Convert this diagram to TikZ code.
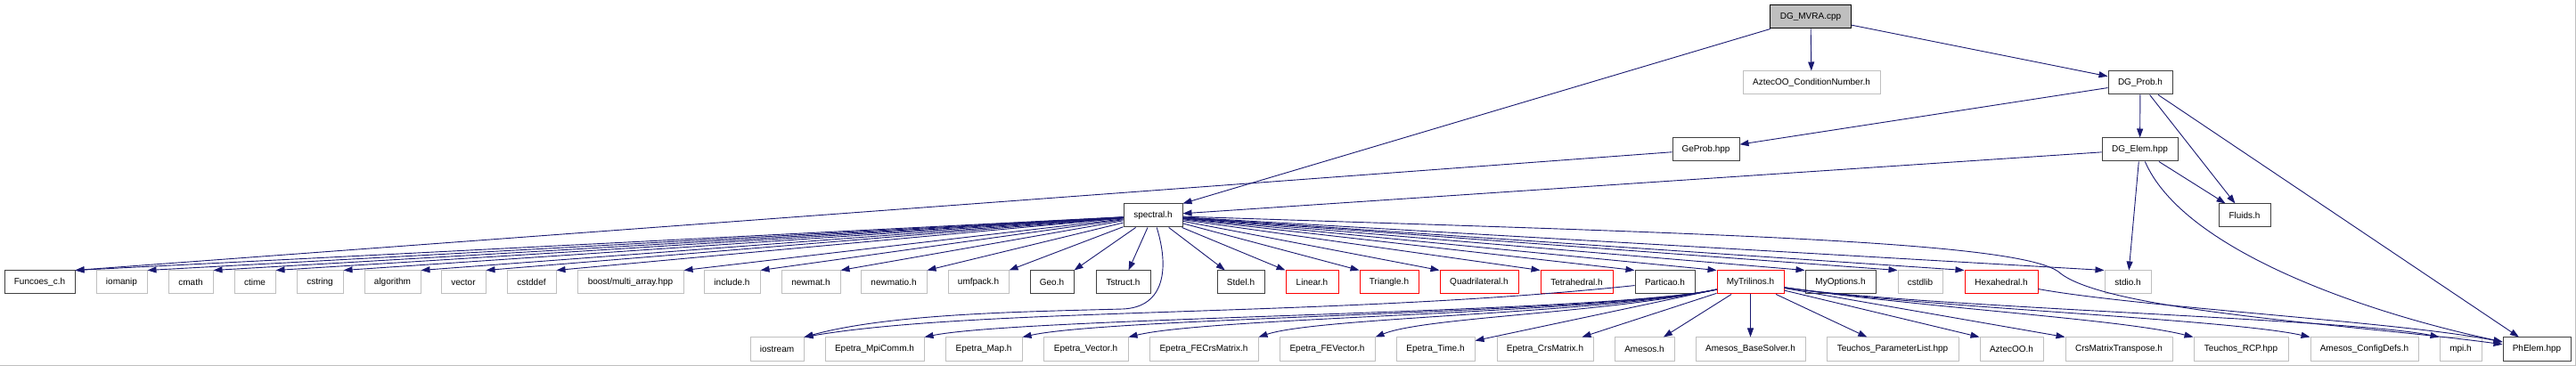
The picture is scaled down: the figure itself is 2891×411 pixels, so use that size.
\documentclass[tikz,border=0pt]{standalone}
\usepackage{fontspec}
\setmainfont{Liberation Sans}
\usepackage{tikz}
\usetikzlibrary{arrows.meta}
\definecolor{edgeblue}{rgb}{0.10, 0.10, 0.44}
\definecolor{docgray}{rgb}{0.25, 0.25, 0.25}
\definecolor{sysgray}{rgb}{0.75, 0.75, 0.75}
\definecolor{rootfill}{rgb}{0.75, 0.75, 0.75}
\tikzstyle{file} = [draw, rectangle, line width=1pt, minimum height=26pt, inner sep=0pt, font=\fontsize{10}{12}\selectfont]
\tikzstyle{docfile} = [file, draw=docgray]
\tikzstyle{sysfile} = [file, draw=sysgray]
\tikzstyle{cutfile} = [file, draw=red]
\tikzstyle{rootfile} = [file, draw=black, fill=rootfill]
\tikzstyle{edge} = [draw=edgeblue, line width=0.9pt, -{Triangle[length=10pt,width=7pt]}]

\begin{document}
\begin{tikzpicture}[x=1pt, y=-1pt]
    \useasboundingbox (0,0) rectangle (2891,411);
    \draw[sysgray, line width=1pt] (0,410) -- (2890,410) -- (2890,0);
    \node[rootfile, minimum width=91] (mvra) at (2032,19) {DG\_MVRA.cpp};
    \node[sysfile, minimum width=154] (aztcond) at (2033,93) {AztecOO\_ConditionNumber.h};
    \node[docfile, minimum width=72] (dgprob) at (2402,93) {DG\_Prob.h};
    \node[docfile, minimum width=75] (geprob) at (1914.5,168) {GeProb.hpp};
    \node[docfile, minimum width=85] (dgelem) at (2401.5,168) {DG\_Elem.hpp};
    \node[docfile, minimum width=66] (spectral) at (1294,242) {spectral.h};
    \node[docfile, minimum width=58] (fluids) at (2519,242) {Fluids.h};
    \foreach \n/\x/\w/\s/\t in {funcoes/44.5/79/docfile/Funcoes\_c.h, iomanip/136.5/57/sysfile/iomanip, cmath/214/50/sysfile/cmath,
        ctime/286/46/sysfile/ctime, cstring/359/52/sysfile/cstring, algorithm/440.5/63/sysfile/algorithm,
        vector/520/50/sysfile/vector, cstddef/596.5/55/sysfile/cstddef, boost/707.5/119/sysfile/{boost/multi\_array.hpp},
        include/821.5/63/sysfile/include.h, newmat/910/66/sysfile/newmat.h, newmatio/1003/74/sysfile/newmatio.h,
        umfpack/1098/68/sysfile/umfpack.h, geo/1180.5/49/docfile/Geo.h, tstruct/1260.5/61/docfile/Tstruct.h,
        stdel/1392.5/53/docfile/Stdel.h, linear/1472.5/59/cutfile/Linear.h, triangle/1559/66/cutfile/Triangle.h,
        quad/1660/88/cutfile/Quadrilateral.h, tetra/1769.5/81/cutfile/Tetrahedral.h, particao/1868.5/67/docfile/Particao.h,
        mytrilinos/1964.5/75/cutfile/MyTrilinos.h, myoptions/2065.5/79/docfile/MyOptions.h, cstdlib/2155/50/sysfile/cstdlib,
        hexa/2246/82/cutfile/Hexahedral.h, stdio/2388/52/sysfile/stdio.h}
        \node[\s, minimum width=\w] (\n) at (\x,317) {\t};
    \foreach \n/\x/\w/\s/\t in {iostream/872/60/sysfile/iostream, mpicomm/981.5/111/sysfile/Epetra\_MpiComm.h,
        map/1104/86/sysfile/Epetra\_Map.h, vec/1218.5/95/sysfile/Epetra\_Vector.h, fecrs/1351/122/sysfile/Epetra\_FECrsMatrix.h,
        fevec/1489.5/107/sysfile/Epetra\_FEVector.h, time/1611/88/sysfile/Epetra\_Time.h, crs/1734/108/sysfile/Epetra\_CrsMatrix.h,
        amesos/1845.5/67/sysfile/Amesos.h, basesolver/1964.5/123/sysfile/Amesos\_BaseSolver.h,
        paramlist/2124/148/sysfile/Teuchos\_ParameterList.hpp, aztecoo/2257.5/71/sysfile/AztecOO.h,
        crstrans/2378/120/sysfile/CrsMatrixTranspose.h, rcp/2515/106/sysfile/Teuchos\_RCP.hpp,
        configdefs/2653.5/121/sysfile/Amesos\_ConfigDefs.h, mpi/2761.5/47/sysfile/mpi.h, phelem/2847/76/docfile/PhElem.hpp}
        \node[\s, minimum width=\w] (\n) at (\x,392) {\t};

    \draw[edge] (mvra) -- (spectral.north east);
    \draw[edge] (mvra) -- (aztcond);
    \draw[edge] (mvra) -- (dgprob);
    \draw[edge] (dgprob) -- (geprob);
    \draw[edge] (dgprob) -- (dgelem);
    \draw[edge] (dgprob) -- (fluids);
    \draw[edge] (dgprob) -- (phelem);
    \draw[edge] (geprob) -- (funcoes.north east);
    \draw[edge] (dgelem) -- (spectral);
    \draw[edge] (dgelem) -- (fluids);
    \draw[edge] (dgelem) -- (stdio);
    \draw[edge] (dgelem) .. controls (2450,280) and (2650,350) .. (phelem);

    \foreach \t in {funcoes, iomanip, cmath, ctime, cstring, algorithm, vector, cstddef, boost, include, newmat, newmatio, umfpack, geo}
        \draw[edge] (spectral) -- (\t.north east);
    \foreach \t in {tstruct, stdel}
        \draw[edge] (spectral) -- (\t);
    \foreach \t in {linear, triangle, quad, tetra, particao, mytrilinos, myoptions, cstdlib, hexa, stdio}
        \draw[edge] (spectral) -- (\t.north west);
    \draw[edge] (spectral) .. controls (1312,300) and (1308,345) .. (1260,347) .. controls (1150,350) and (1000,352) .. (iostream.north east);
    \draw[edge] (spectral) .. controls (1900,262) and (2260,270) .. (2310,305) .. controls (2360,350) and (2650,365) .. (phelem);
    \draw[edge] (particao) .. controls (1500,356) and (1100,345) .. (iostream.north east);

    \foreach \t/\c in {mpicomm/1150, map/1250, vec/1360, fecrs/1480, fevec/1600}
        \draw[edge] (mytrilinos) .. controls (1800,352) and (\c,356) .. (\t.north east);
    \foreach \t in {time, crs, amesos, basesolver, paramlist}
        \draw[edge] (mytrilinos) -- (\t);
    \foreach \t in {aztecoo, crstrans}
        \draw[edge] (mytrilinos) -- (\t.north west);
    \foreach \t/\c in {rcp/2380, configdefs/2500, mpi/2640}
        \draw[edge] (mytrilinos) .. controls (2150,345) and (\c,358) .. (\t.north west);
    \draw[edge] (hexa) .. controls (2400,345) and (2700,362) .. (phelem);
\end{tikzpicture}
\end{document}
